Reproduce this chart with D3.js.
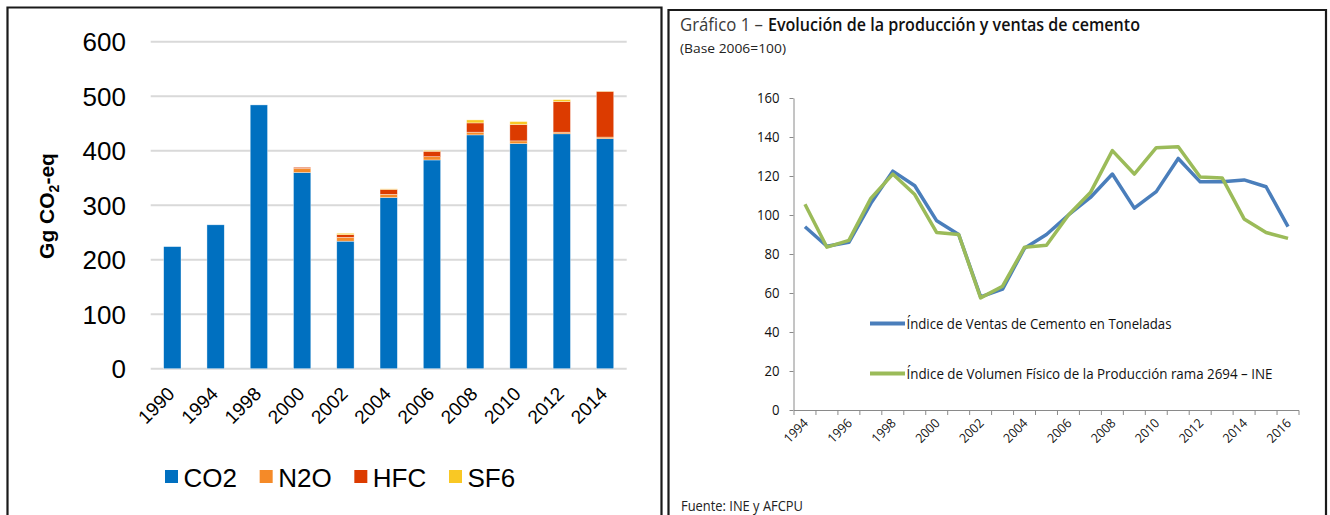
<!DOCTYPE html>
<html><head><meta charset="utf-8">
<script src="https://cdn.jsdelivr.net/npm/d3@7"></script>
<style>html,body{margin:0;padding:0;background:#fff;}svg{display:block;}</style>
</head><body>
<script>
// ---- Left chart data (Gg CO2-eq) ----
const barYears = ["1990","1994","1998","2000","2002","2004","2006","2008","2010","2012","2014"];
const co2 = [224, 264, 484, 360, 234, 314, 383, 429, 413, 431, 422];
const n2o = [0, 0, 0, 7.5, 7, 6, 6, 5, 5, 3, 3];
const hfc = [0, 0, 0, 2, 5, 9, 10, 17, 30, 56, 84];
const sf6 = [0, 0, 0, 0, 2.5, 1, 1.5, 5.5, 5.5, 3.7, 0.5];
const gasKeys = ["CO2", "N2O", "HFC", "SF6"];
const gasColors = ["#0070C0", "#F58A28", "#DC3B00", "#F9C824"];
const barTicks = [0, 100, 200, 300, 400, 500, 600];

// ---- Right chart data (Base 2006=100) ----
const lineYears = ["1994","1995","1996","1997","1998","1999","2000","2001","2002","2003","2004","2005","2006","2007","2008","2009","2010","2011","2012","2013","2014","2015","2016"];
const ventas = [94, 84, 86, 106, 122.5, 115, 97, 90, 58, 62, 83, 90, 100, 109, 121, 103.5, 112, 129, 117, 117, 118, 114.5, 94];
const volumen = [105.5, 83.5, 87, 108.5, 121, 110.5, 91, 90, 57.5, 63.5, 83.5, 84.5, 100, 111.5, 133, 121, 134.5, 135, 119.5, 119, 98, 91, 88];
const lineTicks = [0, 20, 40, 60, 80, 100, 120, 140, 160];
const lineLabelYears = ["1994","1996","1998","2000","2002","2004","2006","2008","2010","2012","2014","2016"];
const seriesNames = ["Índice de Ventas de Cemento en Toneladas", "Índice de Volumen Físico de la Producción rama 2694 – INE"];
const seriesColors = ["#4A7EBB", "#9BBB59"];

const svg = d3.select("body").append("svg").attr("width", 1330).attr("height", 515);

// frames
svg.append("path").attr("d", "M7.5,520 V7.5 H661.5 V520").attr("fill", "none").attr("stroke", "#1a1a1a").attr("stroke-width", 2.2);
svg.append("path").attr("d", "M668.5,520 V10 H1326 V520").attr("fill", "none").attr("stroke", "#1a1a1a").attr("stroke-width", 2.2);

// ===== Left stacked bar chart =====
const L = svg.append("g").attr("font-family", "'Liberation Sans', Arial, sans-serif");
const yL = d3.scaleLinear().domain([0, 600]).range([368.7, 41.7]);
const xL = d3.scaleBand().domain(barYears).range([150.7, 626.7]).paddingInner(0.6).paddingOuter(0.3);

L.append("g").selectAll("line").data(barTicks).join("line")
  .attr("x1", 150.7).attr("x2", 626.7)
  .attr("y1", d => yL(d)).attr("y2", d => yL(d))
  .attr("stroke", "#d9d9d9").attr("stroke-width", 2);

L.append("g").selectAll("text").data(barTicks).join("text")
  .attr("x", 126).attr("y", d => yL(d)).attr("dy", "0.36em")
  .attr("text-anchor", "end").attr("font-size", 26).attr("fill", "#000")
  .text(d => d);

const rows = barYears.map((y, i) => ({year: y, CO2: co2[i], N2O: n2o[i], HFC: hfc[i], SF6: sf6[i]}));
const stacked = d3.stack().keys(gasKeys)(rows);
L.append("g").selectAll("g").data(stacked).join("g")
  .attr("fill", (d, i) => gasColors[i])
  .selectAll("rect").data(d => d).join("rect")
  .attr("x", d => xL(d.data.year)).attr("width", xL.bandwidth())
  .attr("y", d => yL(d[1])).attr("height", d => Math.max(0, yL(d[0]) - yL(d[1])))
  .attr("stroke", "#ffffff").attr("stroke-width", 0.6).attr("stroke-opacity", 0.6);

L.append("g").selectAll("text").data(barYears).join("text")
  .attr("transform", d => `translate(${xL(d) + xL.bandwidth() / 2 + 3.5},395) rotate(-45)`)
  .attr("text-anchor", "end").attr("font-size", 19).attr("fill", "#000")
  .text(d => d);

const yTitle = L.append("text").attr("transform", "translate(54,206) rotate(-90)")
  .attr("text-anchor", "middle").attr("font-size", 21).attr("font-weight", "bold").attr("fill", "#000");
yTitle.append("tspan").text("Gg CO");
yTitle.append("tspan").attr("font-size", 14).attr("dy", 5).text("2");
yTitle.append("tspan").attr("dy", -5).text("-eq");

const legX = d3.scalePoint().domain(gasKeys).range([165, 449]);
const leg = L.append("g").selectAll("g").data(gasKeys).join("g")
  .attr("transform", d => `translate(${legX(d)},0)`);
leg.append("rect").attr("x", 0).attr("y", 470).attr("width", 13).attr("height", 13)
  .attr("fill", (d, i) => gasColors[i]);
leg.append("text").attr("x", 18.5).attr("y", 487).attr("font-size", 26).attr("fill", "#000").text(d => d);

// ===== Right line chart =====
const R = svg.append("g").attr("font-family", "'Open Sans', 'Noto Sans', sans-serif");
R.append("text").attr("x", 680).attr("y", 31).attr("font-size", 18.5).attr("fill", "#3a3a3a")
  .attr("textLength", 83).attr("lengthAdjust", "spacingAndGlyphs").text("Gráfico 1 –");
R.append("text").attr("x", 768).attr("y", 31).attr("font-size", 18.5).attr("font-weight", 600).attr("fill", "#111")
  .attr("textLength", 372).attr("lengthAdjust", "spacingAndGlyphs").text("Evolución de la producción y ventas de cemento");
R.append("text").attr("x", 680).attr("y", 53).attr("font-size", 13).attr("font-weight", 500).attr("fill", "#222")
  .attr("textLength", 106).attr("lengthAdjust", "spacingAndGlyphs").text("(Base 2006=100)");
R.append("text").attr("x", 681).attr("y", 511).attr("font-size", 14).attr("font-weight", 500).attr("fill", "#222")
  .attr("textLength", 122).attr("lengthAdjust", "spacingAndGlyphs").text("Fuente: INE y AFCPU");

const xR = d3.scaleBand().domain(lineYears).range([794, 1299]);
const yR = d3.scaleLinear().domain([0, 160]).range([410, 98]);
const axisColor = "#8a8a8a";

// y axis
const yAx = R.append("g").attr("transform", "translate(793.5,0)")
  .call(d3.axisLeft(yR).tickValues(lineTicks).tickSize(4).tickSizeOuter(0).tickPadding(10));
yAx.select(".domain").attr("stroke", axisColor);
yAx.selectAll(".tick line").attr("stroke", axisColor);
yAx.selectAll(".tick text").attr("font-size", 14.5).attr("fill", "#111").attr("font-family", "'Open Sans', sans-serif")
  .attr("x", -14).attr("textLength", d => String(d).length * 7.5).attr("lengthAdjust", "spacingAndGlyphs");

// x axis
R.append("line").attr("x1", xR.range()[0]).attr("x2", xR.range()[1]).attr("y1", 410.5).attr("y2", 410.5).attr("stroke", axisColor);
const bounds = lineYears.map(d => xR(d)).concat([xR.range()[1]]);
R.append("g").selectAll("line").data(bounds).join("line")
  .attr("x1", d => d).attr("x2", d => d).attr("y1", 410.5).attr("y2", 415)
  .attr("stroke", axisColor);
R.append("g").selectAll("text").data(lineLabelYears).join("text")
  .attr("transform", d => `translate(${xR(d) + xR.bandwidth() / 2 + 4},424) rotate(-45)`)
  .attr("text-anchor", "end").attr("font-size", 13).attr("fill", "#111")
  .attr("textLength", 28).attr("lengthAdjust", "spacingAndGlyphs").text(d => d);

// lines
const lineGen = d3.line().x((d, i) => xR(lineYears[i]) + xR.bandwidth() / 2).y(d => yR(d));
[ventas, volumen].forEach((s, k) => {
  R.append("path").datum(s).attr("d", lineGen).attr("fill", "none")
    .attr("stroke", seriesColors[k]).attr("stroke-width", 3.5).attr("stroke-linejoin", "round");
});

// legend
const legY = [323.5, 373.5];
const legLen = [265, 366];
seriesNames.forEach((n, k) => {
  R.append("line").attr("x1", 870).attr("x2", 905).attr("y1", legY[k]).attr("y2", legY[k])
    .attr("stroke", seriesColors[k]).attr("stroke-width", 4);
  R.append("text").attr("x", 906.5).attr("y", legY[k] + 5).attr("font-size", 15).attr("fill", "#111")
    .attr("textLength", legLen[k]).attr("lengthAdjust", "spacingAndGlyphs").text(n);
});
</script>
</body></html>
